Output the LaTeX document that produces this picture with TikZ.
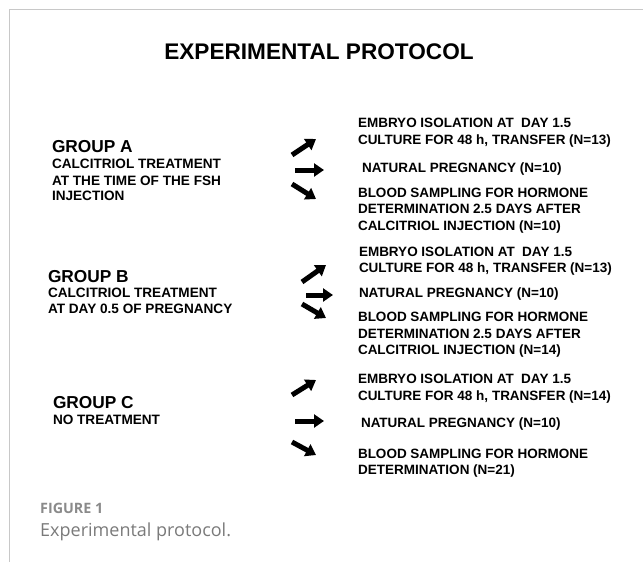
\documentclass[tikz,border=0pt]{standalone}
\usepackage{fontspec}
\setmainfont{Liberation Sans}
\newfontfamily\capfont{Open Sans}
\usetikzlibrary{arrows.meta}
\definecolor{framegray}{HTML}{C8C8C8}
\definecolor{capgrayA}{HTML}{8A8A8A}
\definecolor{capgrayB}{HTML}{7A7A7A}
\tikzset{
  txt/.style={anchor=base west, inner sep=0pt, outer sep=0pt, font=\bfseries\fontsize{13.5}{16.6}\selectfont},
  grouphead/.style={anchor=base west, inner sep=0pt, outer sep=0pt, font=\bfseries\fontsize{17.3}{19}\selectfont},
  groupsub/.style={anchor=base west, inner sep=0pt, outer sep=0pt, font=\bfseries\fontsize{13.6}{16.2}\selectfont},
  blockarrow/.style={line width=5pt, -{Triangle[length=10pt,width=13pt]}},
  frameline/.style={draw=framegray, line width=1pt}
}
\begin{document}
\begin{tikzpicture}[x=1pt,y=-1pt]
\useasboundingbox (0,0) rectangle (643,562);
% frame
\coordinate (fl) at (9,562);
\coordinate (fc) at (9,9);
\coordinate (fr) at (643,9);
\draw[frameline] (fl) -- (fc) -- (fr);
% title
\node[anchor=base, inner sep=0pt, font=\bfseries\fontsize{22.6}{26}\selectfont] (title) at (319,59) {EXPERIMENTAL PROTOCOL};
% group A
\node[grouphead] (ga) at (52,152.7) {GROUP A};
\node[groupsub] (ga1) at (52,168.3) {CALCITRIOL TREATMENT};
\node[groupsub] (ga2) at (52,185) {AT THE TIME OF THE FSH};
\node[groupsub] (ga3) at (52,200.7) {INJECTION};
% group B
\node[grouphead] (gb) at (48,282) {GROUP B};
\node[groupsub] (gb1) at (48,297.5) {CALCITRIOL TREATMENT};
\node[groupsub] (gb2) at (48,313.5) {AT DAY 0.5 OF PREGNANCY};
% group C
\node[grouphead] (gc) at (53,408) {GROUP C};
\node[groupsub] (gc1) at (53,424) {NO TREATMENT};
% outcomes A
\node[txt] (a1) at (358,127) {EMBRYO ISOLATION AT\ \ DAY 1.5};
\node[txt] (a1b) at (358,144) {CULTURE FOR 48 h, TRANSFER (N=13)};
\node[txt] (a2) at (362,172) {NATURAL PREGNANCY (N=10)};
\node[txt] (a3) at (358,197) {BLOOD SAMPLING FOR HORMONE};
\node[txt] (a3b) at (358,213.5) {DETERMINATION 2.5 DAYS AFTER};
\node[txt] (a3c) at (358,230) {CALCITRIOL INJECTION (N=10)};
% outcomes B
\node[txt] (b1) at (359,256) {EMBRYO ISOLATION AT\ \ DAY 1.5};
\node[txt] (b1b) at (359,272) {CULTURE FOR 48 h, TRANSFER (N=13)};
\node[txt] (b2) at (359,297) {NATURAL PREGNANCY (N=10)};
\node[txt] (b3) at (358,321) {BLOOD SAMPLING FOR HORMONE};
\node[txt] (b3b) at (358,338) {DETERMINATION 2.5 DAYS AFTER};
\node[txt] (b3c) at (358,354) {CALCITRIOL INJECTION (N=14)};
% outcomes C
\node[txt] (c1) at (358,383) {EMBRYO ISOLATION AT\ \ DAY 1.5};
\node[txt] (c1b) at (358,400) {CULTURE FOR 48 h, TRANSFER (N=14)};
\node[txt] (c2) at (361,427) {NATURAL PREGNANCY (N=10)};
\node[txt] (c3) at (358,458) {BLOOD SAMPLING FOR HORMONE};
\node[txt] (c3b) at (358,474) {DETERMINATION (N=21)};
% arrows A
\coordinate (au0) at (292,155); \coordinate (au1) at (316,139);
\coordinate (am0) at (295,170); \coordinate (am1) at (324,170);
\coordinate (ad0) at (292,184); \coordinate (ad1) at (316,199);
\draw[blockarrow] (au0) -- (au1);
\draw[blockarrow] (am0) -- (am1);
\draw[blockarrow] (ad0) -- (ad1);
% arrows B
\coordinate (bu0) at (302,282); \coordinate (bu1) at (326,265);
\coordinate (bm0) at (306,295); \coordinate (bm1) at (333,295);
\coordinate (bd0) at (302,304); \coordinate (bd1) at (326,318);
\draw[blockarrow] (bu0) -- (bu1);
\draw[blockarrow] (bm0) -- (bm1);
\draw[blockarrow] (bd0) -- (bd1);
% arrows C
\coordinate (cu0) at (292,395); \coordinate (cu1) at (316,380);
\coordinate (cm0) at (295,421); \coordinate (cm1) at (324,421);
\coordinate (cd0) at (292,442); \coordinate (cd1) at (316,455);
\draw[blockarrow] (cu0) -- (cu1);
\draw[blockarrow] (cm0) -- (cm1);
\draw[blockarrow] (cd0) -- (cd1);
% caption
\node[anchor=base west, inner sep=0pt, text=capgrayA, font=\capfont\bfseries\fontsize{14.3}{16}\selectfont] (fig) at (40,513) {FIGURE 1};
\node[anchor=base west, inner sep=0pt, text=capgrayB, font=\capfont\fontsize{18}{21}\selectfont] (cap) at (40,536) {Experimental protocol.};
\end{tikzpicture}
\end{document}
